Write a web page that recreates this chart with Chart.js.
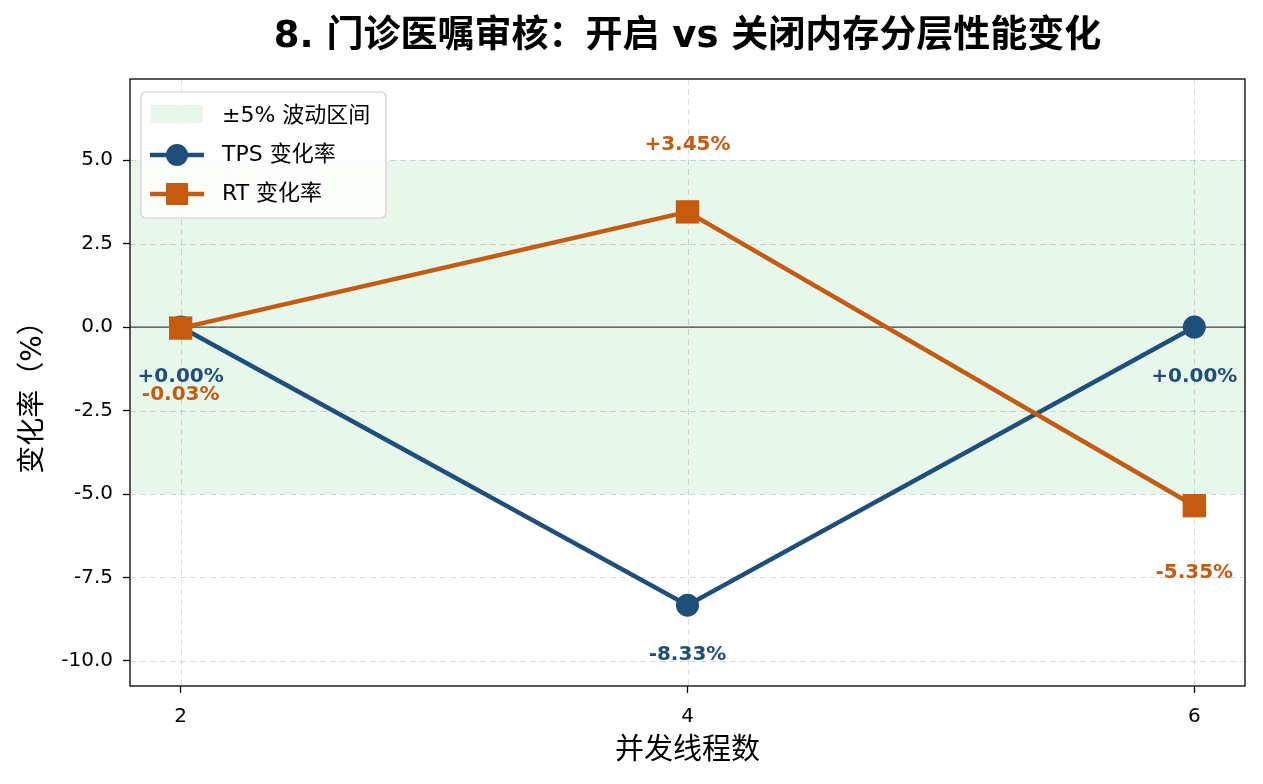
<!DOCTYPE html>
<html><head><meta charset="utf-8">
<script src="https://cdn.jsdelivr.net/npm/chart.js@4.4.0/dist/chart.umd.min.js"></script>
<style>html,body{margin:0;padding:0;background:#fff}#wrap{width:1263px;height:784px}</style>
</head><body><div id="wrap"><canvas id="c" width="1263" height="784"></canvas></div>
<script>
const titleText = '8. 门诊医嘱审核：开启 vs 关闭内存分层性能变化';
const xTitle = '并发线程数';
const yTitle = '变化率（%）';
const threads = [2, 4, 6];
const tpsChange = [0.00, -8.33, 0.00];
const rtChange = [-0.03, 3.45, -5.35];
const bandLow = -5, bandHigh = 5;
const yTicks = [-10, -7.5, -5, -2.5, 0, 2.5, 5];
const legendLabels = ['±5% 波动区间', 'TPS 变化率', 'RT 变化率'];

const TPS_C = '#1f4e79', RT_C = '#c55a11', BAND_C = '#e8f7ec';
const FONT = '"DejaVu Sans", "Noto Sans CJK SC", sans-serif';

function fmt(v){ return (v >= 0 ? '+' : '') + v.toFixed(2) + '%'; }

const overlay = {
  id: 'overlay',
  beforeDatasetsDraw(chart){
    const {ctx, chartArea:a, scales:{x,y}} = chart;
    ctx.save();
    const yt = y.getPixelForValue(bandHigh), yb = y.getPixelForValue(bandLow);
    ctx.fillStyle = BAND_C;
    ctx.fillRect(a.left, yt, a.right - a.left, yb - yt);
    ctx.strokeStyle = 'rgba(0,0,0,0.14)';
    ctx.lineWidth = 1;
    ctx.setLineDash([6,4]);
    yTicks.forEach(v => { const p = Math.round(y.getPixelForValue(v)) + 0.5; ctx.beginPath(); ctx.moveTo(a.left,p); ctx.lineTo(a.right,p); ctx.stroke(); });
    threads.forEach(v => { const p = Math.round(x.getPixelForValue(v)) + 0.5; ctx.beginPath(); ctx.moveTo(p,a.top); ctx.lineTo(p,a.bottom); ctx.stroke(); });
    ctx.setLineDash([]);
    const z = y.getPixelForValue(0);
    ctx.strokeStyle = '#444';
    ctx.lineWidth = 1.3;
    ctx.beginPath(); ctx.moveTo(a.left, z); ctx.lineTo(a.right, z); ctx.stroke();
    ctx.restore();
  },
  afterDatasetsDraw(chart){
    const {ctx, chartArea:a, scales:{x,y}} = chart;
    ctx.save();
    ctx.font = 'bold 20px ' + FONT;
    ctx.textAlign = 'center'; ctx.textBaseline = 'middle';
    rtChange.forEach((v,i) => {
      const px = x.getPixelForValue(threads[i]), py = y.getPixelForValue(v);
      ctx.fillStyle = RT_C;
      ctx.fillText(fmt(v), px, py + (v >= 0 ? -67 : 67));
    });
    tpsChange.forEach((v,i) => {
      const px = x.getPixelForValue(threads[i]), py = y.getPixelForValue(v);
      ctx.fillStyle = TPS_C;
      ctx.fillText(fmt(v), px, py + 50);
    });
    ctx.strokeStyle = '#000'; ctx.lineWidth = 1.3;
    ctx.strokeRect(a.left, a.top, a.right - a.left, a.bottom - a.top);
    // legend
    const lx = 141, ly = 92, lw = 245, lh = 126, r = 5;
    ctx.fillStyle = 'rgba(255,255,255,0.85)';
    ctx.strokeStyle = '#d0d0d0'; ctx.lineWidth = 1.2;
    ctx.beginPath(); ctx.roundRect(lx, ly, lw, lh, r); ctx.fill(); ctx.stroke();
    ctx.fillStyle = BAND_C; ctx.fillRect(151, 105, 52, 18);
    const rows = [116, 155, 194];
    ctx.strokeStyle = TPS_C; ctx.lineWidth = 4.5;
    ctx.beginPath(); ctx.moveTo(150, rows[1]); ctx.lineTo(204, rows[1]); ctx.stroke();
    ctx.fillStyle = TPS_C; ctx.beginPath(); ctx.arc(177, rows[1], 11, 0, Math.PI*2); ctx.fill();
    ctx.strokeStyle = RT_C;
    ctx.beginPath(); ctx.moveTo(150, rows[2]); ctx.lineTo(204, rows[2]); ctx.stroke();
    ctx.fillStyle = RT_C; ctx.fillRect(166, rows[2]-11, 22, 22);
    ctx.fillStyle = '#000'; ctx.font = '22px ' + FONT; ctx.textAlign = 'left';
    legendLabels.forEach((t,i) => ctx.fillText(t, 222, rows[i]));
    // titles
    ctx.textAlign = 'center';
    ctx.font = 'bold 37px ' + FONT;
    ctx.fillText(titleText, (a.left + a.right)/2, 37);
    ctx.font = '29px ' + FONT;
    ctx.fillText(xTitle, (a.left + a.right)/2, 751);
    ctx.font = '28px ' + FONT;
    ctx.translate(34, (a.top + a.bottom)/2 + 8);
    ctx.rotate(-Math.PI/2);
    ctx.fillText(yTitle, 0, 0);
    ctx.restore();
  }
};

new Chart(document.getElementById('c'), {
  type: 'line',
  data: {
    datasets: [
      { label: 'TPS 变化率', data: threads.map((t,i)=>({x:t, y:tpsChange[i]})),
        borderColor: TPS_C, backgroundColor: TPS_C, borderWidth: 4.5,
        pointStyle: 'circle', pointRadius: 11.5, pointHoverRadius: 11.5, pointBorderWidth: 0, tension: 0, order: 2 },
      { label: 'RT 变化率', data: threads.map((t,i)=>({x:t, y:rtChange[i]})),
        borderColor: RT_C, backgroundColor: RT_C, borderWidth: 4.5,
        pointStyle: 'rect', pointRadius: 16.5, pointHoverRadius: 16.5, pointBorderWidth: 0, tension: 0, order: 1 }
    ]
  },
  options: {
    responsive: false, animation: false, devicePixelRatio: 1,
    layout: { padding: { top: 79, right: 18, left: 0, bottom: 0 } },
    plugins: { legend: { display: false }, title: { display: false }, tooltip: { enabled: false } },
    scales: {
      x: { type: 'linear', min: 1.8, max: 6.2,
        afterBuildTicks: s => { s.ticks = threads.map(v => ({value: v})); },
        afterFit: s => { s.height = 98; },
        grid: { display: true, color: 'rgba(0,0,0,0)', tickColor: '#000', tickLength: 7, tickWidth: 1.3, drawOnChartArea: false },
        border: { display: false },
        ticks: { color: '#000', font: { size: 20, family: FONT }, padding: 12, callback: v => String(v) } },
      y: { type: 'linear', min: -10.75, max: 7.43,
        afterBuildTicks: s => { s.ticks = yTicks.map(v => ({value: v})); },
        afterFit: s => { s.width = 130; },
        grid: { display: true, color: 'rgba(0,0,0,0)', tickColor: '#000', tickLength: 7, tickWidth: 1.3, drawOnChartArea: false },
        border: { display: false },
        ticks: { color: '#000', font: { size: 20, family: FONT }, padding: 10, callback: v => v.toFixed(1) } }
    }
  },
  plugins: [overlay]
});
</script></body></html>
